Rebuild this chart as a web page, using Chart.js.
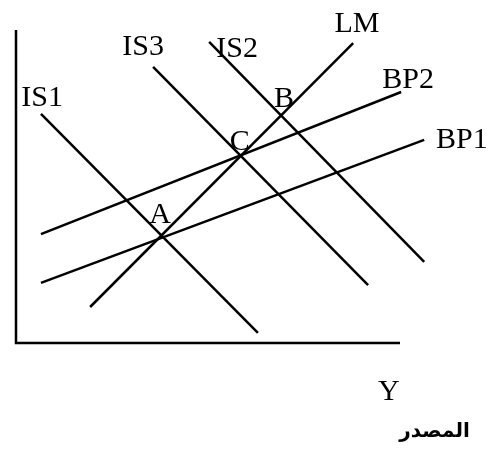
<!DOCTYPE html>
<html lang="ar">
<head>
    <meta charset="UTF-8">
    <title>IS-LM-BP</title>
    <script src="https://cdn.jsdelivr.net/npm/chart.js"></script>
    <style>
        body { margin: 0; background: #fff; }
        canvas { display: block; }
    </style>
</head>
<body>
    <canvas id="islmChart" width="495" height="450"></canvas>
    <script>
        // curve names and their end points (x, y), axis units 0..100
        const curveNames = ['IS1', 'IS3', 'IS2', 'LM', 'BP2', 'BP1'];
        const curveStartX = [6.5, 35.7, 50.3, 19.3, 6.5, 6.5];
        const curveStartY = [73.2, 88.2, 96.2, 11.5, 34.8, 19.2];
        const curveEndX = [63.0, 91.7, 106.3, 87.8, 100.3, 106.3];
        const curveEndY = [3.2, 18.5, 25.9, 95.8, 80.2, 64.9];

        // text labels and where their baselines sit (same axis units)
        const labelTexts = ['IS1', 'IS3', 'IS2', 'LM', 'BP2', 'BP1', 'B', 'C', 'A', 'Y'];
        const labelX = [6.8, 33.1, 57.6, 88.8, 102.1, 116.1, 69.8, 58.3, 37.5, 97.1];
        const labelY = [75.7, 92.0, 91.4, 99.4, 81.5, 62.3, 75.4, 61.7, 38.3, -18.2];
        const sourceText = 'المصدر';
        const sourceX = 109.0;
        const sourceY = -30.0;

        const axisMax = 100;

        const lineStyle = {
            showLine: true,
            borderColor: '#000',
            borderWidth: 2.5,
            pointRadius: 0,
            clip: false
        };

        const datasets = [
            // axes
            { ...lineStyle, data: [{x: 0, y: axisMax}, {x: 0, y: 0}, {x: axisMax, y: 0}] }
        ];
        curveNames.forEach((name, i) => {
            datasets.push({
                ...lineStyle,
                label: name,
                data: [{x: curveStartX[i], y: curveStartY[i]}, {x: curveEndX[i], y: curveEndY[i]}]
            });
        });

        const labelPlugin = {
            id: 'labels',
            afterDatasetsDraw(chart) {
                const ctx = chart.ctx;
                const xs = chart.scales.x, ys = chart.scales.y;
                ctx.save();
                ctx.fillStyle = '#000';
                ctx.textAlign = 'center';
                ctx.textBaseline = 'alphabetic';
                ctx.font = '30px "Liberation Serif"';
                labelTexts.forEach((t, i) => {
                    ctx.fillText(t, xs.getPixelForValue(labelX[i]), ys.getPixelForValue(labelY[i]));
                });
                ctx.font = 'bold 20px "DejaVu Sans"';
                ctx.fillText(sourceText, xs.getPixelForValue(sourceX), ys.getPixelForValue(sourceY));
                ctx.restore();
            }
        };

        new Chart(document.getElementById('islmChart'), {
            type: 'scatter',
            data: { datasets: datasets },
            options: {
                responsive: false,
                animation: false,
                layout: { padding: { left: 16, top: 30, right: 95, bottom: 107 } },
                scales: {
                    x: { type: 'linear', min: 0, max: axisMax, display: false },
                    y: { type: 'linear', min: 0, max: axisMax, display: false }
                },
                plugins: {
                    colors: { enabled: false },
                    legend: { display: false },
                    tooltip: { enabled: false }
                }
            },
            plugins: [labelPlugin]
        });
    </script>
</body>
</html>
